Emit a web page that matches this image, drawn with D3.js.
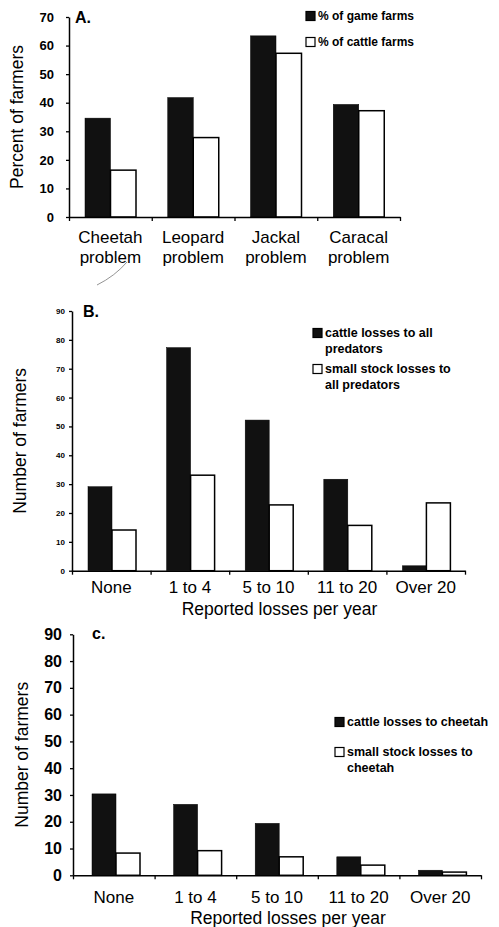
<!DOCTYPE html>
<html>
<head>
<meta charset="utf-8">
<script src="https://cdn.jsdelivr.net/npm/d3@7"></script>
<style>
  html, body { margin: 0; padding: 0; background: #fff; }
  svg { display: block; font-family: "Liberation Sans", Arial, sans-serif; }
</style>
</head>
<body>
<div id="chart"></div>
<script>
// panel A: problem animals
const problemCats = ["Cheetah problem", "Leopard problem", "Jackal problem", "Caracal problem"]
const gameFarms = [34.6, 41.8, 63.4, 39.4]
const cattleFarms = [16.4, 27.8, 57.3, 37.2]

// panels B and C: reported losses per year
const lossCats = ["None", "1 to 4", "5 to 10", "11 to 20", "Over 20"]
const cattleAll = [29.1, 77.3, 52.2, 31.7, 1.7]
const smallAll = [14.1, 33.1, 22.8, 15.7, 23.5]
const cattleCheetah = [30.4, 26.5, 19.4, 6.9, 1.9]
const smallCheetah = [8.3, 9.2, 6.9, 3.8, 1.2]

const W = 499, H = 927
const svg = d3.select("#chart").append("svg").attr("width", W).attr("height", H)

drawPanel({
  cats: problemCats, series: [gameFarms, cattleFarms], yMax: 70,
  x0: 69, x1: 400, y0: 217, y1: 17, padL: 16, barW: 25.5,
  tickFont: "bold 13px 'Liberation Sans'", tickPad: 12,
  catFont: 17, catY: 243, catLine: 20,
  yLabel: "Percent of farmers", yLabelX: 23, yLabelSize: 17.5,
  tag: "A.", tagX: 75, tagY: 23,
  legend: {x: 306, sq: 9, font: 12, items: [
    {fill: "#111", lines: ["% of game farms"], y: 16},
    {fill: "#fff", lines: ["% of cattle farms"], y: 42}
  ]}
})

drawPanel({
  cats: lossCats, series: [cattleAll, smallAll], yMax: 90,
  x0: 72, x1: 465, y0: 570.7, y1: 311, padL: 16, barW: 24,
  tickFont: "bold 8px 'Liberation Sans'", tickPad: 4,
  catFont: 17, catY: 593, catLine: 0,
  xLabel: "Reported losses per year", xLabelY: 615,
  yLabel: "Number of farmers", yLabelX: 26, yLabelSize: 17.5,
  tag: "B.", tagX: 83, tagY: 317,
  legend: {x: 313, sq: 9, font: 12.5, items: [
    {fill: "#111", lines: ["cattle losses to all", "predators"], y: 333},
    {fill: "#fff", lines: ["small stock losses to", "all predators"], y: 369}
  ]}
})

drawPanel({
  cats: lossCats, series: [cattleCheetah, smallCheetah], yMax: 90,
  x0: 73, x1: 481, y0: 875.3, y1: 634.3, padL: 19, barW: 24,
  tickFont: "bold 16px 'Liberation Sans'", tickPad: 8,
  catFont: 17, catY: 903, catLine: 0,
  xLabel: "Reported losses per year", xLabelY: 924,
  yLabel: "Number of farmers", yLabelX: 28, yLabelSize: 17.5,
  tag: "c.", tagX: 92, tagY: 639,
  legend: {x: 335, sq: 9, font: 12.5, items: [
    {fill: "#111", lines: ["cattle losses to cheetah"], y: 722},
    {fill: "#fff", lines: ["small stock losses to", "cheetah"], y: 752}
  ]}
})

// stray pencil stroke under the first panel
svg.append("path")
  .attr("d", "M97,285 Q115,276 127,262")
  .attr("fill", "none").attr("stroke", "#777").attr("stroke-width", 0.8)

function drawPanel(o) {
  const g = svg.append("g")
  const y = d3.scaleLinear().domain([0, o.yMax]).range([o.y0, o.y1])
  const x = d3.scaleBand().domain(o.cats).range([o.x0, o.x1])
  const xs = d3.scaleBand().domain(d3.range(o.series.length))
    .range([o.padL, o.padL + o.barW * o.series.length])
  const fills = ["#111", "#fff"]

  const rows = o.cats.map((c, i) => ({cat: c, vals: o.series.map(s => s[i])}))
  g.selectAll("g.grp").data(rows).join("g").attr("class", "grp")
    .attr("transform", d => `translate(${x(d.cat)},0)`)
    .selectAll("rect").data(d => d.vals.map((v, k) => ({v, k}))).join("rect")
    .attr("x", d => xs(d.k))
    .attr("y", d => y(d.v))
    .attr("width", xs.bandwidth())
    .attr("height", d => y(0) - y(d.v))
    .attr("fill", d => fills[d.k])
    .attr("stroke", "#000")
    .attr("stroke-width", d => d.k ? 1.5 : 0.5)

  // y axis
  g.append("g").attr("transform", `translate(${o.x0},0)`)
    .call(d3.axisLeft(y).tickValues(d3.range(0, o.yMax + 1, 10)).tickSize(3).tickSizeOuter(0).tickPadding(o.tickPad))
    .call(a => a.select(".domain").attr("stroke-width", 1.5))
    .call(a => a.selectAll(".tick line").attr("stroke-width", 1.3))
    .call(a => a.selectAll("text").attr("fill", "#000").style("font", o.tickFont))

  // x axis, ticks at the category boundaries
  const xi = d3.scaleLinear().domain([0, o.cats.length]).range([o.x0, o.x1])
  g.append("g").attr("transform", `translate(0,${o.y0})`)
    .call(d3.axisBottom(xi).tickValues(d3.range(o.cats.length + 1)).tickFormat("").tickSize(4).tickSizeOuter(0))
    .call(a => a.select(".domain").attr("stroke-width", 1.5))
    .call(a => a.selectAll(".tick line").attr("stroke-width", 1.3))

  // category labels
  const lab = g.selectAll("text.cat").data(o.cats).join("text").attr("class", "cat")
    .attr("x", d => x(d) + x.bandwidth() / 2)
    .attr("y", o.catY)
    .attr("text-anchor", "middle")
    .attr("font-size", o.catFont)
  lab.selectAll("tspan").data(d => o.catLine ? d.split(" ") : [d]).join("tspan")
    .attr("x", function() { return this.parentNode.getAttribute("x") })
    .attr("dy", (d, i) => i ? o.catLine : 0)
    .text(d => d)

  if (o.xLabel) {
    g.append("text").attr("x", (o.x0 + o.x1) / 2 + 11).attr("y", o.xLabelY)
      .attr("text-anchor", "middle").attr("font-size", 17.5).text(o.xLabel)
  }

  g.append("text")
    .attr("transform", `translate(${o.yLabelX},${(o.y0 + o.y1) / 2}) rotate(-90)`)
    .attr("text-anchor", "middle").attr("font-size", o.yLabelSize).text(o.yLabel)

  g.append("text").attr("x", o.tagX).attr("y", o.tagY)
    .attr("font-weight", "bold").attr("font-size", 16).text(o.tag)

  // legend
  const L = o.legend
  const li = g.selectAll("g.leg").data(L.items).join("g").attr("class", "leg")
    .attr("transform", d => `translate(${L.x},${d.y})`)
  li.append("rect").attr("x", 0).attr("y", -L.sq / 2).attr("width", L.sq).attr("height", L.sq)
    .attr("fill", d => d.fill).attr("stroke", "#000").attr("stroke-width", 1.2)
  li.append("text").attr("font-size", L.font).attr("font-weight", "bold")
    .selectAll("tspan").data(d => d.lines).join("tspan")
    .attr("x", L.sq + 3).attr("y", (d, i) => 4 + i * 15.5).text(d => d)
}
</script>
</body>
</html>
